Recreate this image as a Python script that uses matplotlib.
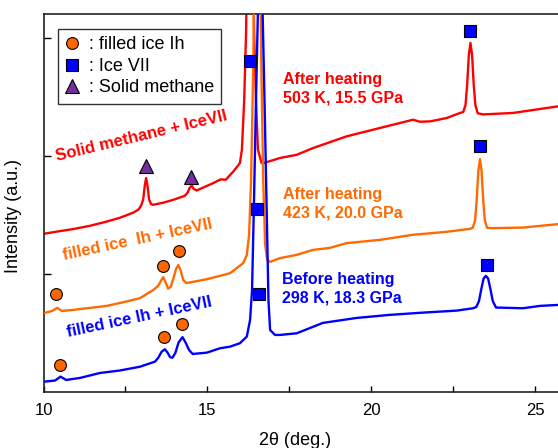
import matplotlib
matplotlib.use("Agg")
import matplotlib.pyplot as plt
from matplotlib.lines import Line2D

plt.rcParams['font.family'] = ['Liberation Sans', 'DejaVu Sans']

# ---- data: XRD patterns (2theta in deg, intensity in a.u.) ----
red_tth = [10.00, 10.50, 10.90, 11.42, 11.93, 12.33, 12.74, 12.90, 12.98, 13.04, 13.09,
           13.13, 13.17, 13.22, 13.28, 13.35, 13.64, 13.96, 14.31, 14.40, 14.46, 14.52,
           14.58, 14.67, 15.18, 15.40, 15.56, 15.79, 15.99, 16.05, 16.12, 16.18, 16.24,
           16.30, 16.36, 16.42, 16.48, 16.54, 16.65, 16.75, 17.21, 17.72, 18.22, 19.24,
           20.26, 21.27, 21.48, 21.79, 22.29, 22.70, 22.80, 22.87, 22.92, 22.97, 23.02,
           23.07, 23.12, 23.17, 23.24, 23.40, 24.31, 25.34, 25.69]
red_int = [1.339, 1.362, 1.379, 1.407, 1.443, 1.475, 1.519, 1.545, 1.580, 1.630, 1.750,
           1.811, 1.750, 1.630, 1.590, 1.585, 1.602, 1.627, 1.661, 1.690, 1.730, 1.746,
           1.720, 1.706, 1.769, 1.800, 1.797, 1.867, 1.938, 2.051, 2.470, 3.070, 4.500,
           5.500, 4.500, 3.070, 2.470, 2.051, 1.938, 1.941, 1.981, 2.008, 2.065, 2.164,
           2.235, 2.305, 2.288, 2.291, 2.319, 2.362, 2.370, 2.430, 2.600, 2.850, 2.955,
           2.850, 2.600, 2.430, 2.360, 2.350, 2.362, 2.404, 2.418]

orange_tth = [10.00, 10.26, 10.42, 10.56, 10.90, 11.42, 11.93, 12.48, 12.94, 13.35, 13.50,
              13.58, 13.65, 13.72, 13.80, 13.88, 13.96, 14.04, 14.11, 14.18, 14.26, 14.36,
              14.98, 15.38, 15.69, 16.09, 16.20, 16.27, 16.33, 16.40, 16.46, 16.52, 16.58,
              16.64, 16.70, 16.76, 16.82, 16.91, 17.21, 17.72, 18.22, 18.73, 19.24, 20.26,
              21.27, 22.29, 23.00, 23.09, 23.16, 23.21, 23.26, 23.31, 23.36, 23.41, 23.46,
              23.53, 23.70, 24.62, 25.69]
orange_int = [0.667, 0.686, 0.712, 0.686, 0.695, 0.712, 0.729, 0.763, 0.794, 0.864, 0.900,
              0.940, 0.972, 0.930, 0.875, 0.890, 0.960, 1.040, 1.076, 1.030, 0.950, 0.922,
              0.955, 0.983, 1.006, 1.091, 1.161, 1.331, 1.797, 2.810, 4.500, 5.500, 4.500,
              2.810, 1.797, 1.246, 1.119, 1.102, 1.133, 1.161, 1.203, 1.220, 1.260, 1.288,
              1.331, 1.356, 1.381, 1.390, 1.450, 1.620, 1.870, 1.972, 1.870, 1.620, 1.450,
              1.390, 1.387, 1.392, 1.421]

blue_tth = [10.00, 10.35, 10.52, 10.69, 11.11, 11.72, 12.33, 12.94, 13.40, 13.50, 13.60,
            13.70, 13.78, 13.86, 13.93, 14.02, 14.12, 14.24, 14.34, 14.44, 14.55, 14.98,
            15.38, 15.69, 15.99, 16.20, 16.30, 16.36, 16.42, 16.48, 16.54, 16.61, 16.68,
            16.74, 16.80, 16.86, 16.91, 17.06, 17.21, 17.72, 18.52, 19.55, 20.56, 21.57,
            22.60, 23.10, 23.20, 23.28, 23.35, 23.42, 23.49, 23.56, 23.63, 23.70, 23.80,
            24.62, 25.14, 25.69]
blue_int = [0.087, 0.097, 0.130, 0.102, 0.119, 0.161, 0.182, 0.214, 0.257, 0.290, 0.340,
            0.362, 0.335, 0.295, 0.290, 0.330, 0.420, 0.464, 0.415, 0.355, 0.322, 0.333,
            0.370, 0.384, 0.413, 0.469, 0.610, 0.864, 1.627, 2.470, 3.240, 6.000, 3.240,
            2.470, 1.627, 0.780, 0.525, 0.483, 0.483, 0.497, 0.585, 0.627, 0.653, 0.672,
            0.689, 0.709, 0.720, 0.770, 0.870, 0.960, 0.983, 0.960, 0.870, 0.770, 0.715,
            0.709, 0.729, 0.737]

# peak markers
ih_tth = [10.37, 13.65, 14.13, 10.50, 13.68, 14.23]
ih_int = [0.828, 1.070, 1.197, 0.229, 0.469, 0.579]
vii_tth = [16.30, 23.00, 16.52, 23.31, 16.57, 23.51]
vii_int = [2.805, 3.053, 1.551, 2.079, 0.831, 1.076]
ch4_tth = [13.13, 14.50]
ch4_int = [1.915, 1.816]

xticks = [10, 12.5, 15, 17.5, 20, 22.5, 25]
xticklabels = ['10', '', '15', '', '20', '', '25']
yticks = [1, 2, 3]

legend_labels = [': filled ice Ih', ': Ice VII', ': Solid methane']

RED = '#FF0000'
ORANGE = '#FF6A00'
BLUE = '#0000FF'
CIRC = '#FF6600'
PURPLE = '#7030A0'

fig = plt.figure(figsize=(5.58, 4.48), dpi=100)
ax = fig.add_axes([43.5 / 558, 56 / 448, (558 - 43.5) / 558, 378 / 448])

ax.plot(red_tth, red_int, color=RED, lw=1.7, zorder=2)
ax.plot(orange_tth, orange_int, color=ORANGE, lw=1.7, zorder=3)
ax.plot(blue_tth, blue_int, color=BLUE, lw=1.7, zorder=4)

ax.plot(ih_tth, ih_int, 'o', ms=8.5, mfc=CIRC, mec='black', mew=0.8, ls='none', zorder=6)
ax.plot(vii_tth, vii_int, 's', ms=9, mfc=BLUE, mec='black', mew=0.8, ls='none', zorder=6)
ax.plot(ch4_tth, ch4_int, '^', ms=10, mfc=PURPLE, mec='black', mew=0.8, ls='none', zorder=6)

ax.set_xlim(10, 25.69)
ax.set_ylim(0, 3.2)
ax.set_xticks(xticks)
ax.set_xticklabels(xticklabels)
ax.set_yticks(yticks)
ax.set_yticklabels([])
ax.tick_params(direction='in', length=4, width=1, labelsize=12, pad=8)
ax.tick_params(axis='y', length=5)
ax.spines['right'].set_visible(False)
for s in ['left', 'bottom', 'top']:
    ax.spines[s].set_linewidth(1.2)
    ax.spines[s].set_color('#222222')

ax.set_xlabel('2θ (deg.)', fontsize=13, labelpad=2)
ax.xaxis.set_label_coords(0.489, -0.106)
ax.set_ylabel('Intensity (a.u.)', fontsize=13)
ax.yaxis.set_label_coords(-0.042, 0.466)

# sample labels
ax.text(12.99, 2.165, 'Solid methane + IceVII', color=RED, fontsize=12, fontweight='bold',
        rotation=13.5, ha='center', va='center', rotation_mode='anchor')
ax.text(12.88, 1.288, 'filled ice  Ih + IceVII', color=ORANGE, fontsize=12, fontweight='bold',
        rotation=12, ha='center', va='center', rotation_mode='anchor')
ax.text(12.91, 0.636, 'filled ice Ih + IceVII', color=BLUE, fontsize=12, fontweight='bold',
        rotation=12, ha='center', va='center', rotation_mode='anchor')

ax.text(17.30, 2.568, 'After heating\n503 K, 15.5 GPa', color=RED, fontsize=11.5,
        fontweight='bold', ha='left', va='center', linespacing=1.35)
ax.text(17.30, 1.593, 'After heating\n423 K, 20.0 GPa', color=ORANGE, fontsize=11.5,
        fontweight='bold', ha='left', va='center', linespacing=1.35)
ax.text(17.27, 0.873, 'Before heating\n298 K, 18.3 GPa', color=BLUE, fontsize=11.5,
        fontweight='bold', ha='left', va='center', linespacing=1.35)

handles = [
    Line2D([], [], marker='o', ls='none', ms=8.5, mfc=CIRC, mec='black', mew=0.8),
    Line2D([], [], marker='s', ls='none', ms=9, mfc=BLUE, mec='black', mew=0.8),
    Line2D([], [], marker='^', ls='none', ms=10, mfc=PURPLE, mec='black', mew=0.8),
]
leg = ax.legend(handles, legend_labels, loc='upper left', bbox_to_anchor=(0.028, 0.96),
                fontsize=13, frameon=True, fancybox=False, edgecolor='black',
                handlelength=0.8, handletextpad=0.5, borderpad=0.4, labelspacing=0.25,
                borderaxespad=0)
leg.get_frame().set_linewidth(1.0)
leg.set_zorder(7)

fig.savefig('out.png', dpi=100)
